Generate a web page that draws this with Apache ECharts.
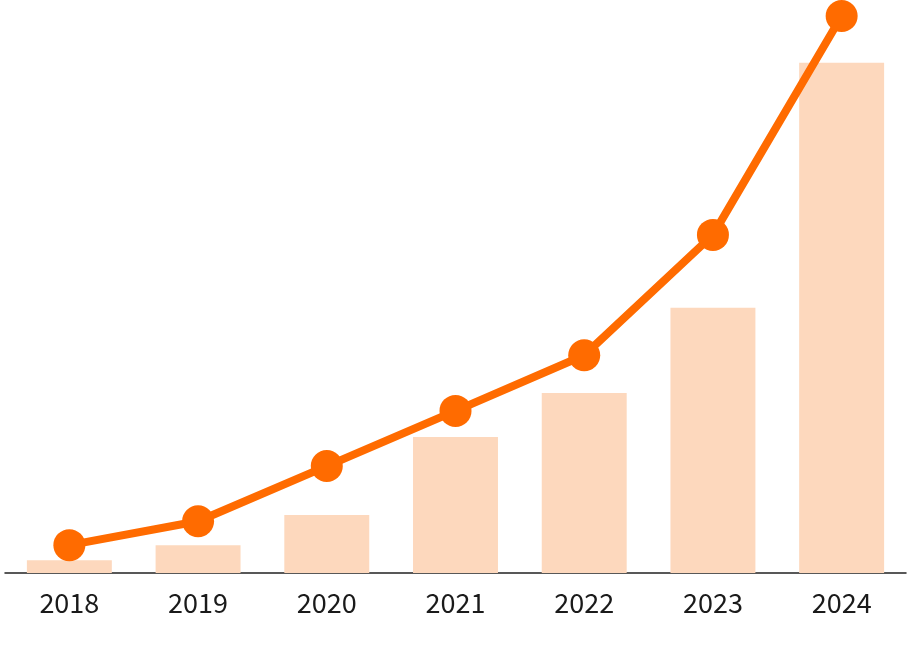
<!DOCTYPE html>
<html>
<head>
<meta charset="utf-8">
<script src="https://cdn.jsdelivr.net/npm/echarts@6/dist/echarts.min.js"></script>
<style>html,body{margin:0;padding:0;background:#fff}#chart{width:921px;height:660px}</style>
</head>
<body>
<div id="chart"></div>
<script>
const years = ['2018', '2019', '2020', '2021', '2022', '2023', '2024'];
const barValues = [2.3, 5.0, 10.4, 24.4, 32.3, 47.6, 91.6];
const lineValues = [5.0, 9.3, 19.2, 29.1, 39.1, 60.7, 100];

let chart = echarts.init(document.getElementById('chart'));
chart.setOption({
  animation: false,
  grid: { left: 5, right: 15, top: 16, bottom: 87 },
  xAxis: {
    type: 'category',
    data: years,
    axisTick: { show: false },
    axisLine: { lineStyle: { color: '#222', width: 1.5 } },
    axisLabel: { color: '#1a1a1a', fontSize: 27, margin: 16, fontFamily: 'Noto Sans CJK SC' }
  },
  yAxis: { type: 'value', min: 0, max: 100, show: false, splitLine: { show: false } },
  series: [
    {
      type: 'bar',
      data: barValues,
      barWidth: '66%',
      itemStyle: { color: '#FDD8BD' }
    },
    {
      type: 'line',
      data: lineValues,
      symbol: 'circle',
      symbolSize: 32,
      lineStyle: { color: '#FF6B00', width: 8 },
      itemStyle: { color: '#FF6B00' }
    }
  ]
});
</script>
</body>
</html>
